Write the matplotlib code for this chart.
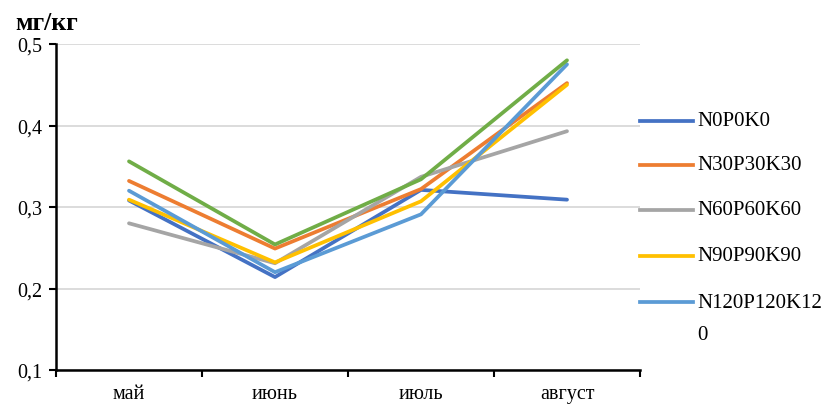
import matplotlib
matplotlib.use("Agg")
import matplotlib.pyplot as plt
from matplotlib.lines import Line2D
import numpy as np

plt.rcParams['font.family'] = ['Liberation Serif', 'DejaVu Serif']

months = ['май', 'июнь', 'июль', 'август']
n0p0k0 = [0.308, 0.214, 0.321, 0.309]
n30p30k30 = [0.332, 0.249, 0.322, 0.452]
n60p60k60 = [0.280, 0.231, 0.337, 0.393]
n90p90k90 = [0.309, 0.232, 0.307, 0.450]
n120p120k120 = [0.320, 0.220, 0.291, 0.475]
sixth = [0.356, 0.254, 0.334, 0.480]  # шестой вариант, в легенду не попал

series = [
    ('N0P0K0', n0p0k0, '#4472C4'),
    ('N30P30K30', n30p30k30, '#ED7D31'),
    ('N60P60K60', n60p60k60, '#A5A5A5'),
    ('N90P90K90', n90p90k90, '#FFC000'),
    ('N120P120K12\n0', n120p120k120, '#5B9BD5'),
    ('_nolegend_', sixth, '#70AD47'),
]

fig = plt.figure(figsize=(8.26, 4.06), dpi=100)
ax = fig.add_axes([56 / 826, 35 / 406, 584 / 826, 326 / 406])

x = np.arange(len(months))
for name, vals, col in series:
    ax.plot(x, vals, color=col, linewidth=2.7, solid_capstyle='round')

ax.set_xlim(-0.5, len(months) - 0.5)
ax.set_ylim(0.1, 0.5)
ax.set_yticks([0.1, 0.2, 0.3, 0.4, 0.5])
ax.set_yticklabels(['0,1', '0,2', '0,3', '0,4', '0,5'], fontsize=14.5)
ax.yaxis.grid(True, color='#D9D9D9', linewidth=1.3)
ax.set_axisbelow(True)

# деления на границах категорий, подписи по центру
ax.set_xticks(np.arange(-0.5, len(months), 1.0))
ax.set_xticklabels([])
ax.set_xticks(x, minor=True)
ax.set_xticklabels(months, minor=True, fontsize=14.5)
ax.tick_params(axis='x', which='major', length=5, width=1.5, direction='out')
ax.tick_params(axis='x', which='minor', length=0, pad=10)
ax.tick_params(axis='y', length=5, width=1.5, direction='out', pad=5)

for s in ['top', 'right']:
    ax.spines[s].set_visible(False)
for s in ['left', 'bottom']:
    ax.spines[s].set_linewidth(1.8)
    ax.spines[s].set_color('black')

fig.text(15 / 826, 1 - 23 / 406, 'мг/кг', fontsize=18.5, fontweight='bold', va='center', ha='left')

# легенда справа
leg_y = [122, 166, 211, 257, 303]
for (name, vals, col), yy in zip(series[:5], leg_y):
    yf = 1 - yy / 406
    fig.add_artist(Line2D([640 / 826, 693 / 826], [yf, yf], transform=fig.transFigure,
                          color=col, linewidth=2.7))
    fig.text(697 / 826, yf, name.split('\n')[0], fontsize=15, va='center', ha='left')
    if '\n' in name:
        fig.text(697 / 826, 1 - (yy + 32) / 406, name.split('\n')[1], fontsize=15,
                 va='center', ha='left')

fig.savefig('out.png', dpi=100)
